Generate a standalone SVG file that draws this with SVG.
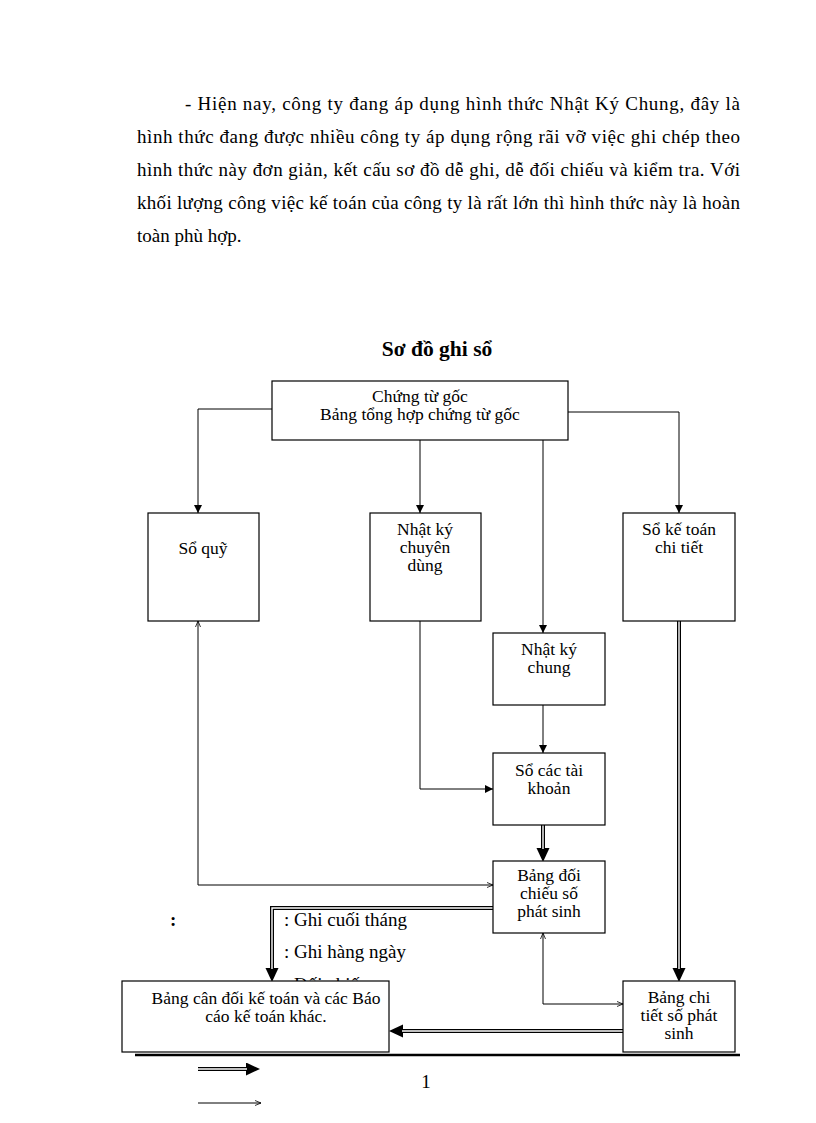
<svg xmlns="http://www.w3.org/2000/svg" width="816" height="1123" viewBox="0 0 816 1123">
<style>
text{font-family:"Liberation Serif","Times New Roman",serif;fill:#000}
.p{font-size:19px}
.b{font-size:17.5px;text-anchor:middle}
.box{fill:#fff;stroke:#000;stroke-width:1.2}
.ln{fill:none;stroke:#000;stroke-width:1}
.dbl{fill:none;stroke:#000;stroke-width:4}
.dblw{fill:none;stroke:#fff;stroke-width:1.4}
</style>
<defs>
<marker id="ah" markerUnits="userSpaceOnUse" markerWidth="8" markerHeight="8" refX="8" refY="4" orient="auto"><path d="M0,0 L8,4 L0,8 z" fill="#000"/></marker>
<marker id="ahs" markerUnits="userSpaceOnUse" markerWidth="6" markerHeight="6" refX="6" refY="3" orient="auto-start-reverse"><path d="M0,0.5 L6,3 L0,5.5" fill="none" stroke="#000" stroke-width="0.8"/></marker>
<marker id="ahb" markerUnits="userSpaceOnUse" markerWidth="14" markerHeight="14" refX="0" refY="6.5" orient="auto"><path d="M0,0 L14,6.5 L0,13 z" fill="#000"/></marker>
</defs>

<g id="paragraph" class="p">
<text x="185" y="110" textLength="555" lengthAdjust="spacing">- Hiện nay, công ty đang áp dụng hình thức Nhật Ký Chung, đây là</text>
<text x="137" y="143" textLength="603" lengthAdjust="spacing">hình thức đang được nhiều công ty áp dụng rộng rãi vỡ việc ghi chép theo</text>
<text x="137" y="176" textLength="603" lengthAdjust="spacing">hình thức này đơn giản, kết cấu sơ đồ dễ ghi, dễ đối chiếu và kiểm tra. Với</text>
<text x="137" y="209" textLength="603" lengthAdjust="spacing">khối lượng công việc kế toán của công ty là rất lớn thì hình thức này là hoàn</text>
<text x="137" y="242">toàn phù hợp.</text>
</g>

<text id="title" x="437" y="356" text-anchor="middle" font-size="21.5" font-weight="bold">Sơ đồ ghi sổ</text>

<g id="legend">
<text x="170" y="926" font-size="19" font-weight="bold">:</text>
<text x="284" y="926" font-size="19">: Ghi cuối tháng</text>
<text x="284" y="958" font-size="19">: Ghi hàng ngày</text>
<text x="284" y="991" font-size="19">: Đối chiếu</text>
<path class="dbl" d="M198,1069 H246" marker-end="url(#ahb)"/>
<path class="dblw" d="M198,1069 H247"/>
<path class="ln" d="M198,1103 H261" marker-end="url(#ahs)"/>
</g>

<g id="connectors">
<path class="ln" d="M272,409 H198 V513" marker-end="url(#ah)"/>
<path class="ln" d="M420,440 V513" marker-end="url(#ah)"/>
<path class="ln" d="M543,440 V633" marker-end="url(#ah)"/>
<path class="ln" d="M568,412 H679 V513" marker-end="url(#ah)"/>
<path class="ln" d="M198,621 V885 H493" marker-start="url(#ahs)" marker-end="url(#ahs)"/>
<path class="ln" d="M420,621 V789 H493" marker-end="url(#ah)"/>
<path class="ln" d="M543,705 V753" marker-end="url(#ah)"/>
<path class="ln" d="M543,933 V1004 H623" marker-start="url(#ahs)" marker-end="url(#ahs)"/>
<path class="dbl" d="M543,825 V848" marker-end="url(#ahb)"/>
<path class="dblw" d="M543,825 V849"/>
<path class="dbl" d="M679,621 V968" marker-end="url(#ahb)"/>
<path class="dblw" d="M679,621 V969"/>
<path class="dbl" d="M493,908 H272 V968" marker-end="url(#ahb)"/>
<path class="dblw" d="M493,908 H272 V969"/>
<path class="dbl" d="M623,1031 H403" marker-end="url(#ahb)"/>
<path class="dblw" d="M623,1031 H402"/>
</g>

<g id="chung-tu-goc">
<rect class="box" x="272" y="381" width="296" height="59"/>
<text class="b" x="420" y="402">Chứng từ gốc</text>
<text class="b" x="420" y="420">Bảng tổng hợp chứng từ gốc</text>
</g>
<g id="so-quy">
<rect class="box" x="148" y="513" width="111" height="108"/>
<text class="b" x="203" y="554">Sổ quỹ</text>
</g>
<g id="nhat-ky-chuyen-dung">
<rect class="box" x="370" y="513" width="111" height="108"/>
<text class="b" x="425" y="535">Nhật ký</text>
<text class="b" x="425" y="553">chuyên</text>
<text class="b" x="425" y="571">dùng</text>
</g>
<g id="so-ke-toan-chi-tiet">
<rect class="box" x="623" y="513" width="112" height="108"/>
<text class="b" x="679" y="535">Sổ kế toán</text>
<text class="b" x="679" y="553">chi tiết</text>
</g>
<g id="nhat-ky-chung">
<rect class="box" x="493" y="633" width="112" height="72"/>
<text class="b" x="549" y="655">Nhật ký</text>
<text class="b" x="549" y="673">chung</text>
</g>
<g id="so-cac-tai-khoan">
<rect class="box" x="493" y="753" width="112" height="72"/>
<text class="b" x="549" y="776">Sổ các tài</text>
<text class="b" x="549" y="794">khoản</text>
</g>
<g id="bang-doi-chieu">
<rect class="box" x="493" y="861" width="112" height="72"/>
<text class="b" x="549" y="881">Bảng đối</text>
<text class="b" x="549" y="899">chiếu số</text>
<text class="b" x="549" y="917">phát sinh</text>
</g>
<g id="bang-can-doi">
<rect class="box" x="122" y="981" width="267" height="71"/>
<text class="b" x="266" y="1004">Bảng cân đối kế toán và các Báo</text>
<text class="b" x="266" y="1022">cáo kế toán khác.</text>
</g>
<g id="bang-chi-tiet">
<rect class="box" x="623" y="981" width="112" height="71"/>
<text class="b" x="679" y="1003">Bảng chi</text>
<text class="b" x="679" y="1021">tiết số phát</text>
<text class="b" x="679" y="1039">sinh</text>
</g>

<line x1="135" y1="1055" x2="740" y2="1055" stroke="#000" stroke-width="2.5"/>
<text id="page-number" x="426" y="1088" text-anchor="middle" font-size="19">1</text>
</svg>
